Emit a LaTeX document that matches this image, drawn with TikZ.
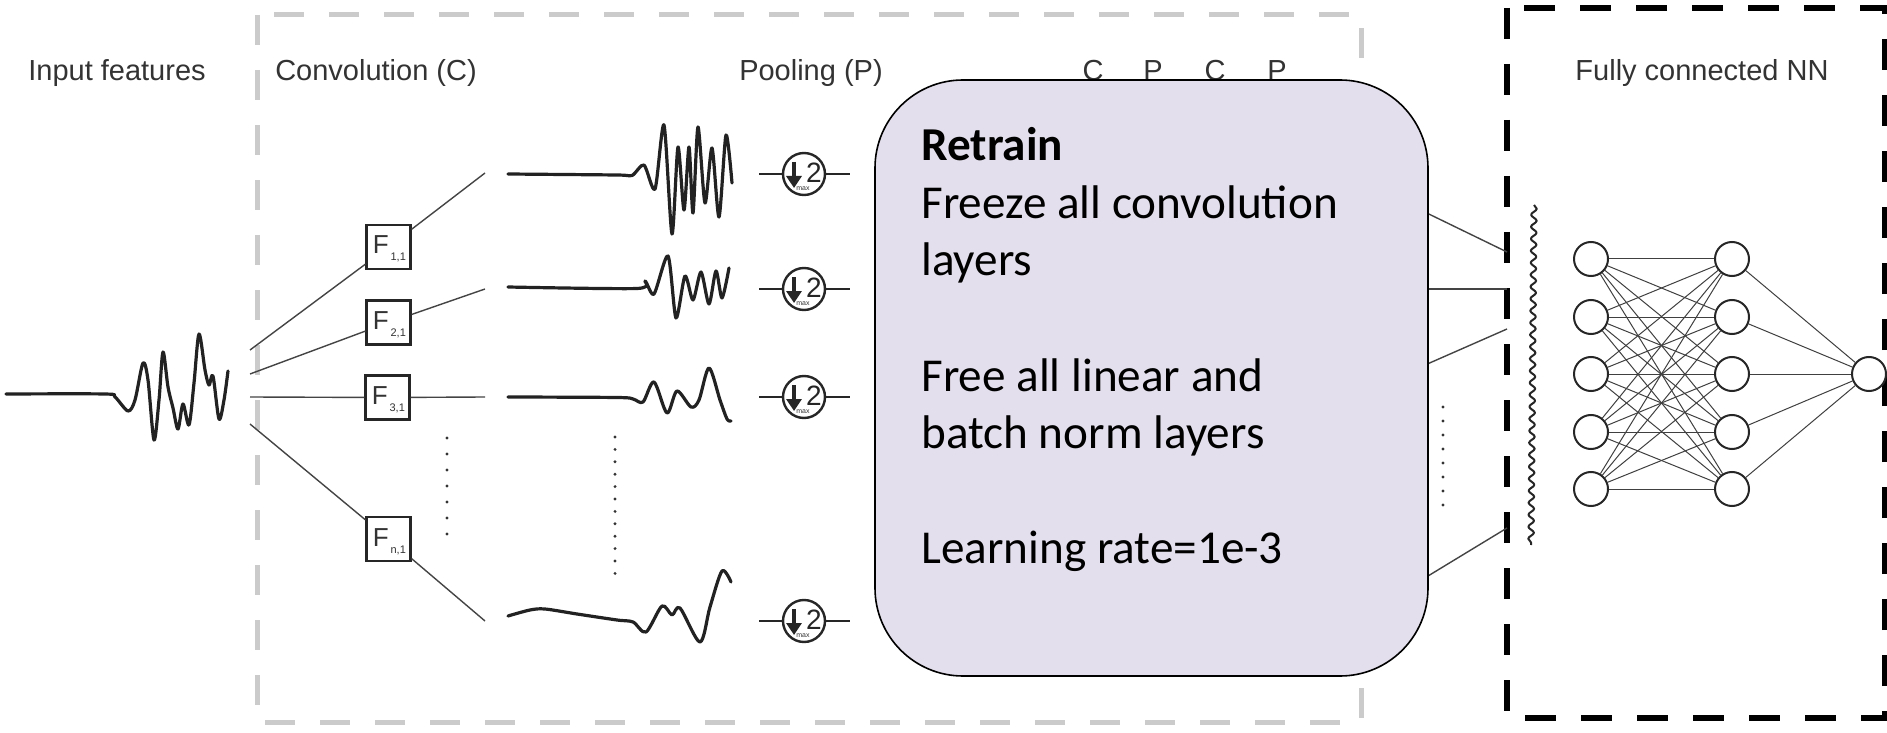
\documentclass[tikz,border=0pt]{standalone}
\usepackage{fontspec}
\setmainfont{Liberation Sans}
\newfontfamily\calibri{Carlito}
\usetikzlibrary{arrows.meta,calc,decorations.pathmorphing}
\definecolor{labelgray}{HTML}{333333}
\definecolor{wavecol}{HTML}{222222}
\definecolor{conncol}{HTML}{444444}
\definecolor{dashgray}{HTML}{CBCBCB}
\definecolor{boxfill}{HTML}{E4DFEC}
\tikzset{
  lbl/.style={font=\fontsize{14.5}{16}\selectfont, text=labelgray, inner sep=0, anchor=base},
  wave/.style={line width=1.6pt, draw=wavecol, line join=round, line cap=round},
  conn/.style={line width=0.7pt, draw=conncol},
  fbox/.style={draw=black!85, line width=1.1pt, fill=white, minimum width=22pt, minimum height=22pt, inner sep=0},
  ftxt/.style={font=\fontsize{13}{13}\selectfont, text=labelgray, inner sep=0, anchor=base west},
  poolc/.style={circle, draw=black!85, line width=1.2pt, fill=white, minimum size=21pt, inner sep=0},
  poolline/.style={line width=1.2pt, draw=black!85},
  pooltwo/.style={font=\fontsize{14}{14}\selectfont, text=black!85, inner sep=0},
  poolmax/.style={font=\fontsize{3.5}{4}\selectfont, text=black!80, inner sep=0},
  neuron/.style={circle, draw=black!85, line width=1pt, fill=white, minimum size=17pt, inner sep=0},
  nnedge/.style={line width=0.5pt, draw=black!75},
  boxtxt/.style={font=\calibri\fontsize{23.6}{28}\selectfont, anchor=base west, inner sep=0},
}
\begin{document}
\begin{tikzpicture}[x=0.5pt,y=-0.5pt]
\useasboundingbox (0,0) rectangle (1887,733);
\fill[white] (0,0) rectangle (1887,733);

% outer dashed frames
\draw[dashgray, line width=2.5pt, dash pattern=on 15pt off 12.5pt] (257,15) rectangle (1361,722);
\draw[black, line width=3pt, dash pattern=on 15.5pt off 12.5pt] (1507,8) rectangle (1885,718);

% titles
\node[lbl] (tin) at (117,80.5) {Input features};
\node[lbl] (tconv) at (376,80.5) {Convolution (C)};
\node[lbl] (tpool) at (811,80.5) {Pooling (P)};
\node[lbl] (tc1) at (1093,81) {C};
\node[lbl] (tp1) at (1153,81) {P};
\node[lbl] (tc2) at (1215,81) {C};
\node[lbl] (tp2) at (1277,81) {P};
\node[lbl] (tfc) at (1702,80.5) {Fully connected NN};

% input wave
\draw[wave] plot[smooth, tension=0.5] coordinates {(6,394) (105,394) (115,397) (128,411) (135,400) (143,363) (148,380) (154,440) (159,400) (163,352) (168,387) (173,408) (178,429) (183,404) (189,425) (194,383) (199,334) (205,370) (209,385) (213,376) (219,419) (224,400) (228,371)};

% fan-out connectors through filters
\coordinate (s1) at (250,350); \coordinate (d1) at (485,173);
\coordinate (s2) at (250,374); \coordinate (d2) at (485,289);
\coordinate (s3) at (250,397); \coordinate (d3) at (485,397);
\coordinate (s4) at (250,424); \coordinate (d4) at (485,621);
\node[fbox] (f1) at (388.5,247) {};
\node[fbox] (f2) at (388.5,322.5) {};
\node[fbox] (f3) at (387.5,397.5) {};
\node[fbox] (f4) at (388.5,539) {};
\draw[conn] (s1) -- (f1) -- (d1);
\draw[conn] (s2) -- (f2) -- (d2);
\draw[conn] (s3) -- (f3) -- (d3);
\draw[conn] (s4) -- (f4) -- (d4);
\foreach \n/\s in {f1/{1,1},f2/{2,1},f3/{3,1},f4/{n,1}}{
  \node[ftxt] (\n t) at ($(\n.center)+(-16,7)$) {F\raisebox{-3.5pt}{\fontsize{5.5}{5.5}\selectfont\,\s}};
}

% dots
\foreach \k in {0,...,6} \fill[black!80] (447,{438+16*\k}) circle (0.8pt);
\foreach \k in {0,...,11} \fill[black!80] (615,{437+12.4*\k}) circle (0.8pt);
\foreach \k in {0,...,7} \fill[black!80] (1443,{407+14*\k}) circle (0.8pt);

% feature maps
\draw[wave] plot[smooth, tension=0.45] coordinates {(508,174) (617,175) (632,175.5) (644,165) (655,189) (664,125) (672,234) (678,147) (684,210) (689,147) (693,213) (698,127) (705,203) (712,148) (719,217) (726,135) (732,183)};
\draw[wave] plot[smooth, tension=0.45] coordinates {(508,287) (637,288.5) (645,281) (654,294) (668,256) (676,318) (685,276) (693,300) (701,272) (709,304) (716,271) (722,298) (729,268)};
\draw[wave] plot[smooth, tension=0.5] coordinates {(508,397) (617,397.5) (633,399) (643,402) (654,382) (667,413) (677,391) (691,407) (699,400) (709,368) (720,400) (727,419) (731,421)};
\draw[wave] plot[smooth, tension=0.5] coordinates {(508,616) (530,610) (545,609) (577,614) (617,620) (633,622) (646,632) (662,606) (672,615) (680,608) (700,642) (710,607) (722,571) (731,582)};

% pooling
\foreach \i/\y in {1/174,2/289,3/397,4/621}{
  \node[poolc] (p\i) at (804,\y) {};
  \coordinate (pl\i) at (759,\y);
  \coordinate (pr\i) at (850,\y);
  \draw[poolline] (pl\i) -- (p\i);
  \draw[poolline] (p\i) -- (pr\i);
  \draw[line width=2.2pt, black!85, -{Triangle[length=6pt,width=7.5pt]}] ($(p\i.center)+(-10,-12)$) -- ($(p\i.center)+(-10,14)$);
  \node[pooltwo] (q\i) at ($(p\i.center)+(10,-1)$) {2};
  \node[poolmax] (m\i) at ($(p\i.center)+(-1,15)$) {max};
}

% lines into the fully connected part
\coordinate (h1) at (1400,200); \coordinate (e1) at (1507,252);
\coordinate (h2) at (1400,289); \coordinate (e2) at (1507,289);
\coordinate (h3) at (1400,376); \coordinate (e3) at (1507,329);
\coordinate (h4) at (1400,593); \coordinate (e4) at (1507,528);
\draw[conn] (h1) -- (e1);
\draw[conn] (h2) -- (e2);
\draw[conn] (h3) -- (e3);
\draw[conn] (h4) -- (e4);

% retrain box
\node[draw=black, line width=0.8pt, fill=boxfill, rounded corners=44pt, minimum width=276.5pt, minimum height=298pt, inner sep=0] (retrain) at (1151.5,378) {};
\node[boxtxt, font=\calibri\bfseries\fontsize{23.6}{28}\selectfont] (r0) at (921,161) {Retrain};
\node[boxtxt] (r1) at (921,218.5) {Freeze all convolution};
\node[boxtxt] (r2) at (921,276) {layers};
\node[boxtxt] (r3) at (921,391) {Free all linear and};
\node[boxtxt] (r4) at (921,448.5) {batch norm layers};
\node[boxtxt] (r5) at (921,563.5) {Learning rate=1e-3};

% flatten squiggle
\coordinate (wt) at (1534,205); \coordinate (wb) at (1531,545);
\draw[line width=1pt, black!85, line join=round, decorate, decoration={snake, amplitude=1.4pt, segment length=6pt}] (wt) -- (wb);

% fully connected network
\foreach \i/\y in {1/259,2/317,3/374,4/432,5/489}{
  \node[neuron] (a\i) at (1591,\y) {};
  \node[neuron] (b\i) at (1732,\y) {};
}
\node[neuron] (o) at (1869,374) {};
\foreach \i in {1,...,5}{
  \foreach \j in {1,...,5}{ \draw[nnedge] (a\i) -- (b\j); }
  \draw[nnedge] (b\i) -- (o);
}
\end{tikzpicture}
\end{document}
